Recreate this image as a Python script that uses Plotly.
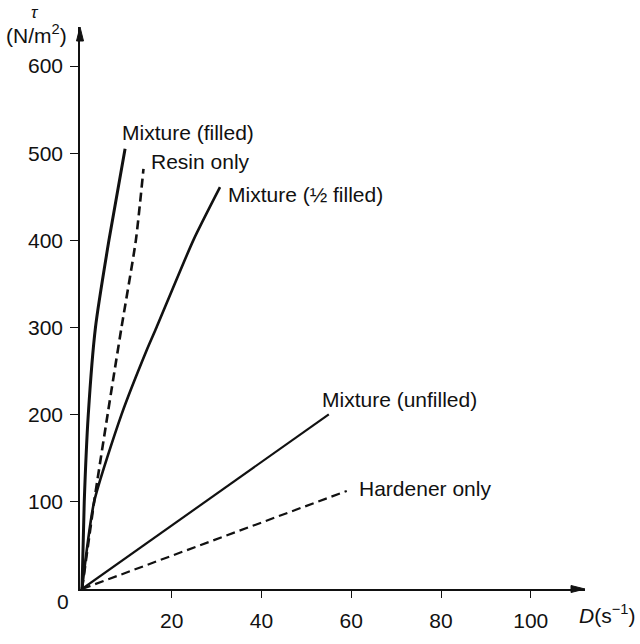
import plotly.graph_objects as go

# ---- data ----
filled_x = [0, 0.5, 1.4, 3.0, 6.0, 9.6]
filled_y = [0, 100, 200, 300, 400, 505]

resin_x = [0, 2.7, 5.7, 8.8, 12.0, 13.7]
resin_y = [0, 100, 200, 300, 400, 482]

half_x = [0, 2.7, 8.8, 14.5, 16.6, 24.8, 30.75]
half_y = [0, 100, 200, 275, 300, 400, 461]

unfilled_x = [0, 55.0]
unfilled_y = [0, 200.4]

hardener_x = [0, 59.0]
hardener_y = [0, 112.5]

x_ticks = [20, 40, 60, 80, 100]
y_ticks = [100, 200, 300, 400, 500, 600]

FONT = "Liberation Sans, Arial, Helvetica, sans-serif"
INK = "#111111"
FS = 21

series = [
    ("Mixture (filled)", filled_x, filled_y, "solid", 3.0, -5, 16),
    ("Resin only", resin_x, resin_y, "9px,5px", 2.6, 6, 7),
    ("Mixture (\u00bd filled)", half_x, half_y, "solid", 2.6, 6, -7),
    ("Mixture (unfilled)", unfilled_x, unfilled_y, "solid", 2.2, -9, 15),
    ("Hardener only", hardener_x, hardener_y, "9px,5px", 2.2, 10, 2),
]

fig = go.Figure()
annotations = []
for name, xs, ys, dash, w, dx, dy in series:
    fig.add_trace(go.Scatter(x=xs, y=ys, mode="lines", name=name,
                             line=dict(color=INK, width=w, dash=dash,
                                       shape="spline", smoothing=0.6),
                             hoverinfo="skip"))
    annotations.append(dict(x=xs[-1], y=ys[-1], xref="x", yref="y",
                            text=name, showarrow=False, xanchor="left",
                            yanchor="middle", xshift=dx, yshift=dy,
                            font=dict(family=FONT, size=FS, color=INK)))

# axis titles
annotations.append(dict(x=0, y=1, xref="paper", yref="paper", text="<i>\u03c4</i>",
                        showarrow=False, xanchor="center", yanchor="middle",
                        xshift=-45, yshift=15, font=dict(family=FONT, size=17, color=INK)))
annotations.append(dict(x=0, y=1, xref="paper", yref="paper", text="(N/m<sup>2</sup>)",
                        showarrow=False, xanchor="center", yanchor="middle",
                        xshift=-44, yshift=-7, font=dict(family=FONT, size=FS, color=INK)))
annotations.append(dict(x=1, y=0, xref="paper", yref="paper",
                        text="<i>D</i>(s<sup>\u22121</sup>)",
                        showarrow=False, xanchor="left", yanchor="middle",
                        xshift=-8, yshift=-25, font=dict(family=FONT, size=FS, color=INK)))
# origin label
annotations.append(dict(x=0, y=0, xref="paper", yref="paper", text="0",
                        showarrow=False, xanchor="center", yanchor="middle",
                        xshift=-17, yshift=-12, font=dict(family=FONT, size=FS, color=INK)))

# axis arrowheads (pixel-sized paths anchored at the axis ends)
shapes = [
    dict(type="path", xref="paper", yref="paper", xsizemode="pixel", ysizemode="pixel",
         xanchor=0, yanchor=1, path="M -3.5 -14 L 0 0 L 3.5 -14 Z",
         fillcolor=INK, line=dict(color=INK, width=1)),
    dict(type="path", xref="paper", yref="paper", xsizemode="pixel", ysizemode="pixel",
         xanchor=1, yanchor=0, path="M -14 -3.5 L 0 0 L -14 3.5 Z",
         fillcolor=INK, line=dict(color=INK, width=1)),
]

fig.update_layout(
    width=640, height=644,
    margin=dict(l=80, r=55, t=27, b=38),
    paper_bgcolor="white", plot_bgcolor="white",
    showlegend=False,
    annotations=annotations,
    shapes=shapes,
    font=dict(family=FONT, size=FS, color=INK),
)
fig.update_xaxes(range=[-0.446, 112.09], tickvals=x_ticks, ticks="outside",
                 ticklen=7, tickwidth=1, tickcolor=INK, showline=True,
                 linecolor=INK, linewidth=1.5, showgrid=False, zeroline=False,
                 ticklabelstandoff=5,
                 tickfont=dict(family=FONT, size=FS, color=INK))
fig.update_yaxes(range=[0, 644.8], tickvals=y_ticks, ticks="outside",
                 ticklen=8, tickwidth=1, tickcolor=INK, showline=True,
                 linecolor=INK, linewidth=1.5, showgrid=False, zeroline=False,
                 ticklabelstandoff=3,
                 tickfont=dict(family=FONT, size=FS, color=INK))

fig.write_html("out.html")
